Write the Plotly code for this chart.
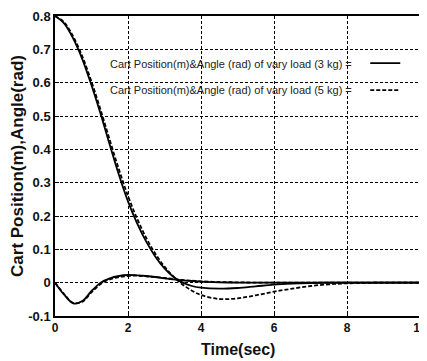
import plotly.graph_objects as go

# ---- data ----
time_s = [0, 0.25, 0.5, 0.75, 1, 1.25, 1.5, 1.75, 2, 2.25, 2.5, 2.75, 3, 3.25, 3.5,
          3.75, 4, 4.5, 5, 5.5, 6, 6.5, 7, 7.5, 8, 9, 10]
pos_3kg = [0.8, 0.778, 0.732, 0.67, 0.592, 0.506, 0.414, 0.324, 0.244, 0.178, 0.123,
           0.078, 0.043, 0.017, 0.0, -0.01, -0.015, -0.018, -0.016, -0.011, -0.006,
           -0.003, -0.001, 0, 0, 0, 0]
pos_5kg = [0.8, 0.781, 0.738, 0.678, 0.603, 0.518, 0.428, 0.34, 0.26, 0.192, 0.134,
           0.087, 0.048, 0.018, -0.006, -0.024, -0.037, -0.049, -0.047, -0.038, -0.027,
           -0.018, -0.01, -0.005, -0.002, 0, 0]
ang_3kg = [0, -0.036, -0.062, -0.055, -0.025, 0.0, 0.013, 0.02, 0.023, 0.022, 0.02,
           0.017, 0.013, 0.01, 0.007, 0.005, 0.003, 0.001, 0, 0, 0, 0, 0, 0, 0, 0, 0]
ang_5kg = [0, -0.034, -0.061, -0.057, -0.029, -0.004, 0.01, 0.017, 0.02, 0.021, 0.019,
           0.017, 0.014, 0.011, 0.008, 0.006, 0.004, 0.002, 0.001, 0, 0, 0, 0, 0, 0, 0, 0]

legend_texts = ["Cart Position(m)&Angle (rad) of vary load (3 kg) =",
                "Cart Position(m)&Angle (rad) of vary load (5 kg) ="]
y_tickvals = [-0.1, 0, 0.1, 0.2, 0.3, 0.4, 0.5, 0.6, 0.7, 0.8]
y_ticktext = ["-0.1", "0", "0.1", "0.2", "0.3", "0.4", "0.5", "0.6", "0.7", "0.8"]
x_tickvals = [0, 2, 4, 6, 8, 10]

FONT = "Liberation Sans, Arial, sans-serif"

fig = go.Figure()
fig.add_trace(go.Scatter(x=time_s, y=pos_3kg, mode="lines", name=" ",
                         line=dict(color="black", width=1.8, shape="spline"),
                         legendgroup="a"))
fig.add_trace(go.Scatter(x=time_s, y=pos_5kg, mode="lines", name="  ",
                         line=dict(color="black", width=1.8, dash="4px,2px", shape="spline"),
                         legendgroup="b"))
fig.add_trace(go.Scatter(x=time_s, y=ang_3kg, mode="lines", showlegend=False,
                         line=dict(color="black", width=1.8, shape="spline")))
fig.add_trace(go.Scatter(x=time_s, y=ang_5kg, mode="lines", showlegend=False,
                         line=dict(color="black", width=1.8, dash="4px,2px", shape="spline")))

ann = []
for i, txt in enumerate(legend_texts):
    ann.append(dict(xref="paper", yref="paper", x=0.818, y=0.84 - i * 0.087,
                    xanchor="right", yanchor="middle", showarrow=False, text=txt,
                    font=dict(family="Liberation Sans Narrow, " + FONT, size=11, color="#222")))
ann.append(dict(xref="paper", yref="paper", x=0.5, y=-0.078, xanchor="center",
                yanchor="top", showarrow=False, text="<b>Time(sec)</b>",
                font=dict(family=FONT, size=16, color="#111")))

fig.update_layout(
    width=427, height=361,
    margin=dict(l=47, r=15, t=8, b=53, autoexpand=False),
    paper_bgcolor="white", plot_bgcolor="white",
    font=dict(family=FONT, color="#111"),
    showlegend=True,
    legend=dict(x=0.85, y=0.905, xanchor="left", yanchor="top",
                bgcolor="rgba(0,0,0,0)", borderwidth=0,
                font=dict(size=18.5), tracegroupgap=0),
    annotations=ann,
    xaxis=dict(range=[0, 10], tickvals=x_tickvals,
               tickfont=dict(family=FONT, size=12, weight="bold"),
               showgrid=True, gridcolor="black", griddash="3px,2px", gridwidth=1,
               showline=True, mirror=True, linecolor="black", linewidth=1.5,
               ticks="inside", ticklen=4, tickcolor="black", zeroline=False),
    yaxis=dict(range=[-0.1, 0.8], tickvals=y_tickvals, ticktext=y_ticktext,
               tickfont=dict(family=FONT, size=13, weight="bold"),
               showgrid=True, gridcolor="black", griddash="3px,2px", gridwidth=1,
               showline=True, mirror=True, linecolor="black", linewidth=1.5,
               ticks="inside", ticklen=4, tickcolor="black", zeroline=False,
               title=dict(text="<b>Cart Position(m),Angle(rad)</b>",
                          font=dict(family=FONT, size=17), standoff=4)),
)

fig.write_html("out.html")
